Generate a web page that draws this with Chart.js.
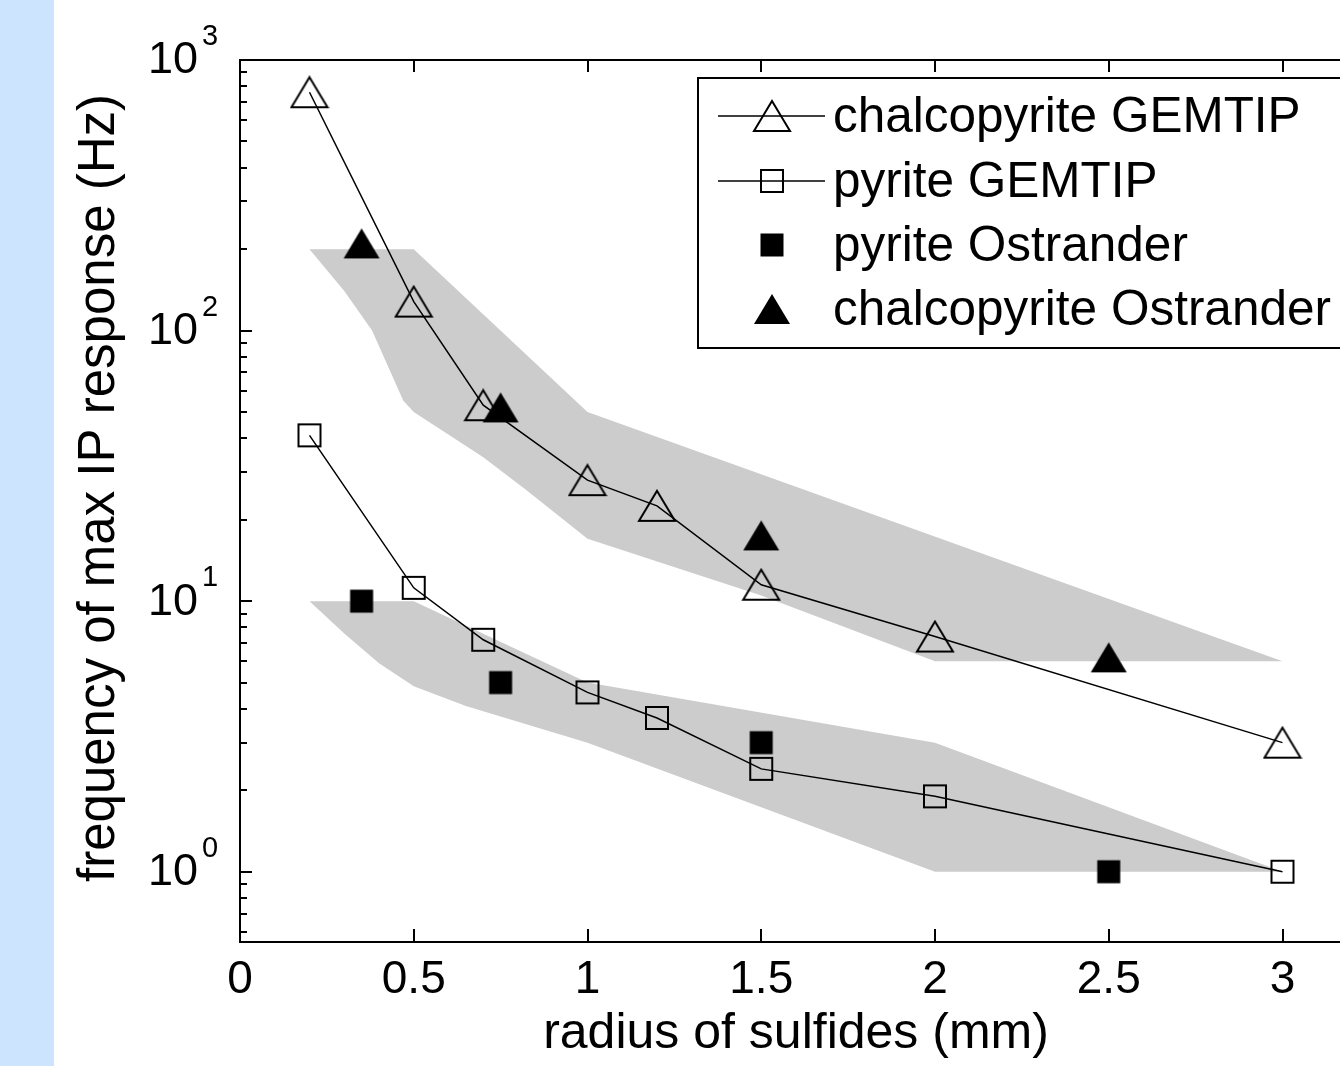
<!DOCTYPE html>
<html><head><meta charset="utf-8">
<script src="https://cdn.jsdelivr.net/npm/chart.js@4.4.1/dist/chart.umd.min.js"></script>
<style>
html,body{margin:0;padding:0;overflow:hidden;width:1340px;height:1066px;}
body{background:linear-gradient(90deg,#cce4fe 0,#cce4fe 54px,#ffffff 54px);}
#wrap{position:absolute;left:0;top:0;width:1400px;height:1066px;}
canvas{display:block;}
</style></head><body>
<div id="wrap"><canvas id="c" width="1400" height="1066" style="width:1400px;height:1066px"></canvas></div>
<script>
// ---- data ----
const radiusGemtip = [0.2, 0.5, 0.7, 1.0, 1.2, 1.5, 2.0, 3.0];
const chalcopyriteGemtip = [760, 128, 53, 28, 22.5, 11.5, 7.4, 3.0];
const pyriteGemtip = [41, 11.2, 7.2, 4.6, 3.7, 2.4, 1.9, 1.0];
const radiusOstrander = [0.35, 0.75, 1.5, 2.5];
const pyriteOstrander = [10, 5, 3, 1];
const chalcopyriteOstrander = [210, 52, 17.5, 6.2];

// gray bands (outline: upper edge left->right, lower edge right->left)
const upperBandX = [0.2, 0.5, 1.0, 3.0, 2.0, 1.5, 1.0, 0.82, 0.7, 0.5, 0.47, 0.38, 0.3, 0.2];
const upperBandY = [200, 200, 50, 6, 6, 10.5, 17, 26, 34, 50, 55, 100, 140, 200];
const lowerBandX = [0.2, 0.5, 1.0, 2.0, 3.0, 2.0, 1.0, 0.65, 0.5, 0.4, 0.3, 0.2];
const lowerBandY = [10, 10, 5, 3, 1, 1, 3, 4.1, 4.85, 5.9, 7.6, 10];

const xTicks = [0, 0.5, 1, 1.5, 2, 2.5, 3];
const yDecades = [0, 1, 2, 3];
const seriesNames = ['chalcopyrite GEMTIP', 'pyrite GEMTIP', 'pyrite Ostrander', 'chalcopyrite Ostrander'];
const xTitle = 'radius of sulfides (mm)';
const yTitle = 'frequency of max IP response (Hz)';

const FONT = '"Liberation Sans", Arial, Helvetica, sans-serif';
const pts = (xs, ys) => xs.map((x, i) => ({x, y: ys[i]}));

function marker(kind) {
  const c = document.createElement('canvas');
  const tri = kind.startsWith('tri');
  c.width = tri ? 40 : 26; c.height = tri ? 34 : 26;
  const g = c.getContext('2d');
  g.lineWidth = 2; g.strokeStyle = '#000'; g.fillStyle = '#000';
  if (tri) {
    g.beginPath(); g.moveTo(20, 2); g.lineTo(38, 32); g.lineTo(2, 32); g.closePath();
    if (kind === 'triFill') g.fill(); else g.stroke();
  } else {
    if (kind === 'sqFill') g.fillRect(1.5, 1.5, 23, 23); else g.strokeRect(2, 2, 22, 22);
  }
  return c;
}
const mTriOpen = marker('triOpen'), mSqOpen = marker('sqOpen'), mSqFill = marker('sqFill'), mTriFill = marker('triFill');
const legendMarkers = [mTriOpen, mSqOpen, mSqFill, mTriFill];
const legendLines = [true, true, false, false];

const decor = {
  id: 'decor',
  afterDraw(chart) {
    const ctx = chart.ctx, xs = chart.scales.x, ys = chart.scales.y;
    const {left, right, top, bottom} = chart.chartArea;
    ctx.save();
    ctx.strokeStyle = '#000'; ctx.lineWidth = 2;
    // box top & right
    ctx.beginPath(); ctx.moveTo(left, top); ctx.lineTo(right, top); ctx.lineTo(right, bottom); ctx.stroke();
    // x ticks inward (bottom & top)
    ctx.beginPath();
    xTicks.forEach(v => {
      const px = Math.round(xs.getPixelForValue(v));
      ctx.moveTo(px, bottom); ctx.lineTo(px, bottom - 13);
      ctx.moveTo(px, top); ctx.lineTo(px, top + 12);
    });
    ctx.stroke();
    // y ticks inward (major & minor)
    ctx.beginPath();
    for (let d = -1; d <= 3; d++) {
      for (let m = 1; m <= 9; m++) {
        const v = m * Math.pow(10, d);
        if (v < ys.min || v > ys.max) continue;
        const py = Math.round(ys.getPixelForValue(v));
        const len = m === 1 ? 12 : 7;
        ctx.moveTo(left, py); ctx.lineTo(left + len, py);
        ctx.moveTo(right, py); ctx.lineTo(right - len, py);
      }
    }
    ctx.stroke();
    // y tick labels 10^n
    ctx.fillStyle = '#000';
    yDecades.forEach(d => {
      const py = ys.getPixelForValue(Math.pow(10, d));
      ctx.font = '45px ' + FONT; ctx.textAlign = 'right'; ctx.textBaseline = 'middle';
      ctx.fillText('10', 198, py + 1);
      ctx.font = '29px ' + FONT; ctx.textAlign = 'left'; ctx.textBaseline = 'alphabetic';
      ctx.fillText(String(d), 202, py - 15);
    });
    // y title
    ctx.save();
    ctx.translate(100, 488); ctx.rotate(-Math.PI / 2);
    ctx.font = '51px ' + FONT; ctx.textAlign = 'center'; ctx.textBaseline = 'middle';
    ctx.fillText(yTitle, 0, 0);
    ctx.restore();
    // legend
    const lx = 698, ly = 78, lh = 270;
    ctx.fillStyle = '#fff'; ctx.fillRect(lx, ly, 720, lh);
    ctx.lineWidth = 2; ctx.strokeRect(lx, ly, 720, lh);
    const rows = [116, 181, 245, 309];
    rows.forEach((ry, i) => {
      if (legendLines[i]) {
        ctx.lineWidth = 1.5; ctx.beginPath(); ctx.moveTo(718, ry); ctx.lineTo(825, ry); ctx.stroke();
      }
      const mk = legendMarkers[i];
      ctx.drawImage(mk, 772 - mk.width / 2, ry - mk.height / 2);
      ctx.fillStyle = '#000'; ctx.font = '49.5px ' + FONT; ctx.textAlign = 'left'; ctx.textBaseline = 'middle';
      ctx.fillText(seriesNames[i], 833, ry + 2);
    });
    ctx.restore();
  }
};

new Chart(document.getElementById('c'), {
  type: 'scatter',
  data: {
    datasets: [
      {label: seriesNames[0], data: pts(radiusGemtip, chalcopyriteGemtip), showLine: true, borderColor: '#000', borderWidth: 1.5, pointStyle: mTriOpen, pointRadius: 12, order: 1},
      {label: seriesNames[1], data: pts(radiusGemtip, pyriteGemtip), showLine: true, borderColor: '#000', borderWidth: 1.5, pointStyle: mSqOpen, pointRadius: 12, order: 1},
      {label: seriesNames[2], data: pts(radiusOstrander, pyriteOstrander), showLine: false, pointStyle: mSqFill, pointRadius: 12, order: 1},
      {label: seriesNames[3], data: pts(radiusOstrander, chalcopyriteOstrander), showLine: false, pointStyle: mTriFill, pointRadius: 12, order: 1},
      {label: 'chalcopyrite range', data: pts(upperBandX, upperBandY), showLine: true, fill: 'shape', backgroundColor: '#cccccc', borderColor: 'rgba(0,0,0,0)', borderWidth: 0, pointRadius: 0, order: 2},
      {label: 'pyrite range', data: pts(lowerBandX, lowerBandY), showLine: true, fill: 'shape', backgroundColor: '#cccccc', borderColor: 'rgba(0,0,0,0)', borderWidth: 0, pointRadius: 0, order: 2}
    ]
  },
  options: {
    responsive: false,
    animation: false,
    events: [],
    layout: {padding: {left: 0, right: 48, top: 60, bottom: 0}},
    plugins: {legend: {display: false}, tooltip: {enabled: false}},
    scales: {
      x: {
        type: 'linear', min: 0, max: 3.2,
        grid: {display: false, drawTicks: false},
        border: {display: true, color: '#000', width: 2},
        ticks: {stepSize: 0.5, includeBounds: false, autoSkip: false, maxRotation: 0, color: '#000', padding: 11,
                font: {size: 46, family: FONT}, callback: v => String(Math.round(v * 10) / 10)},
        title: {display: true, text: xTitle, color: '#000', font: {size: 50, family: FONT}, padding: {top: 0, bottom: 2}},
        afterFit(s) { s.height = 124; }
      },
      y: {
        type: 'logarithmic', min: 0.55, max: 1000,
        grid: {display: false, drawTicks: false},
        border: {display: true, color: '#000', width: 2},
        ticks: {display: false},
        afterFit(s) { s.width = 240; }
      }
    }
  },
  plugins: [decor]
});
</script>
</body></html>
